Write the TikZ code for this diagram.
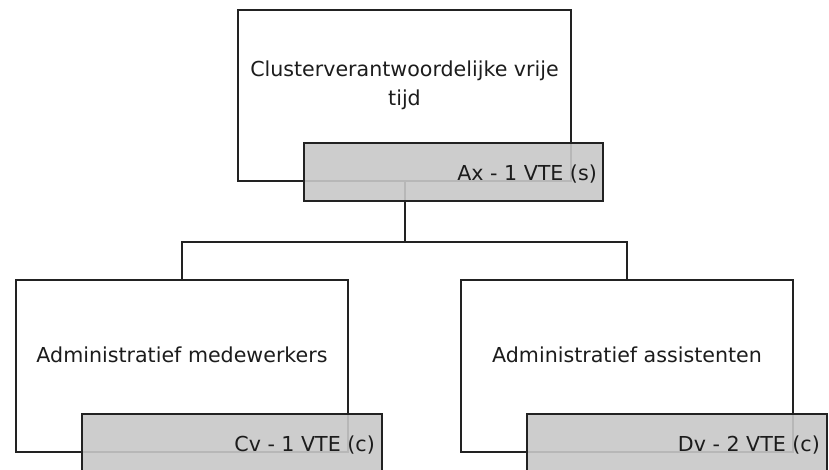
\documentclass[tikz,border=0pt]{standalone}
\usepackage{fontspec}
\setmainfont{DejaVu Sans}
\definecolor{inkline}{HTML}{222222}
\definecolor{inktext}{HTML}{1C1C1C}
\definecolor{fteband}{RGB}{200,200,200}
\begin{document}
\begin{tikzpicture}[x=1pt,y=-1pt,
  unitbox/.style={draw=inkline, line width=2pt, fill=white, inner sep=0pt},
  fteboxstyle/.style={draw=inkline, line width=2pt, fill=fteband, fill opacity=0.9, draw opacity=1, inner sep=0pt, minimum width=300pt, minimum height=58pt},
  unitlabel/.style={text=inktext, inner sep=0pt, font=\fontsize{20.6}{29}\selectfont},
  link/.style={draw=inkline, line width=2pt}]
  \useasboundingbox (0,0) rectangle (829,470);
  \clip (0,0) rectangle (829,470);

  % organisational units
  \node[unitbox, minimum width=333pt, minimum height=171pt] (top) at (404.5,95.5) {};
  \node[unitbox, minimum width=332pt, minimum height=172pt] (left) at (182,366) {};
  \node[unitbox, minimum width=332pt, minimum height=172pt] (right) at (627,366) {};

  % reporting lines
  \coordinate (bus) at ([yshift=-60pt]top.south);
  \draw[link] (top.south) -- (bus);
  \draw[link] (left.north) |- (bus) -| (right.north);

  % staffing bands
  \node[fteboxstyle, minimum width=299pt] (topfte) at (453.5,172) {};
  \node[fteboxstyle] (leftfte) at (232,443) {};
  \node[fteboxstyle] (rightfte) at (677,443) {};

  % unit names
  \node[unitlabel, align=center, anchor=base] (toptxt) at (404.5,106) {Clusterverantwoordelijke vrije\\tijd};
  \node[unitlabel, anchor=base] (lefttxt) at (182,362) {Administratief medewerkers};
  \node[unitlabel, anchor=base] (righttxt) at (627,362) {Administratief assistenten};

  % staffing figures
  \node[unitlabel, anchor=base east] (topftetxt) at (597,181) {Ax - 1 VTE (s)};
  \node[unitlabel, anchor=base east] (leftftetxt) at (375,451) {Cv - 1 VTE (c)};
  \node[unitlabel, anchor=base east] (rightftetxt) at (820,451) {Dv - 2 VTE (c)};
\end{tikzpicture}
\end{document}
